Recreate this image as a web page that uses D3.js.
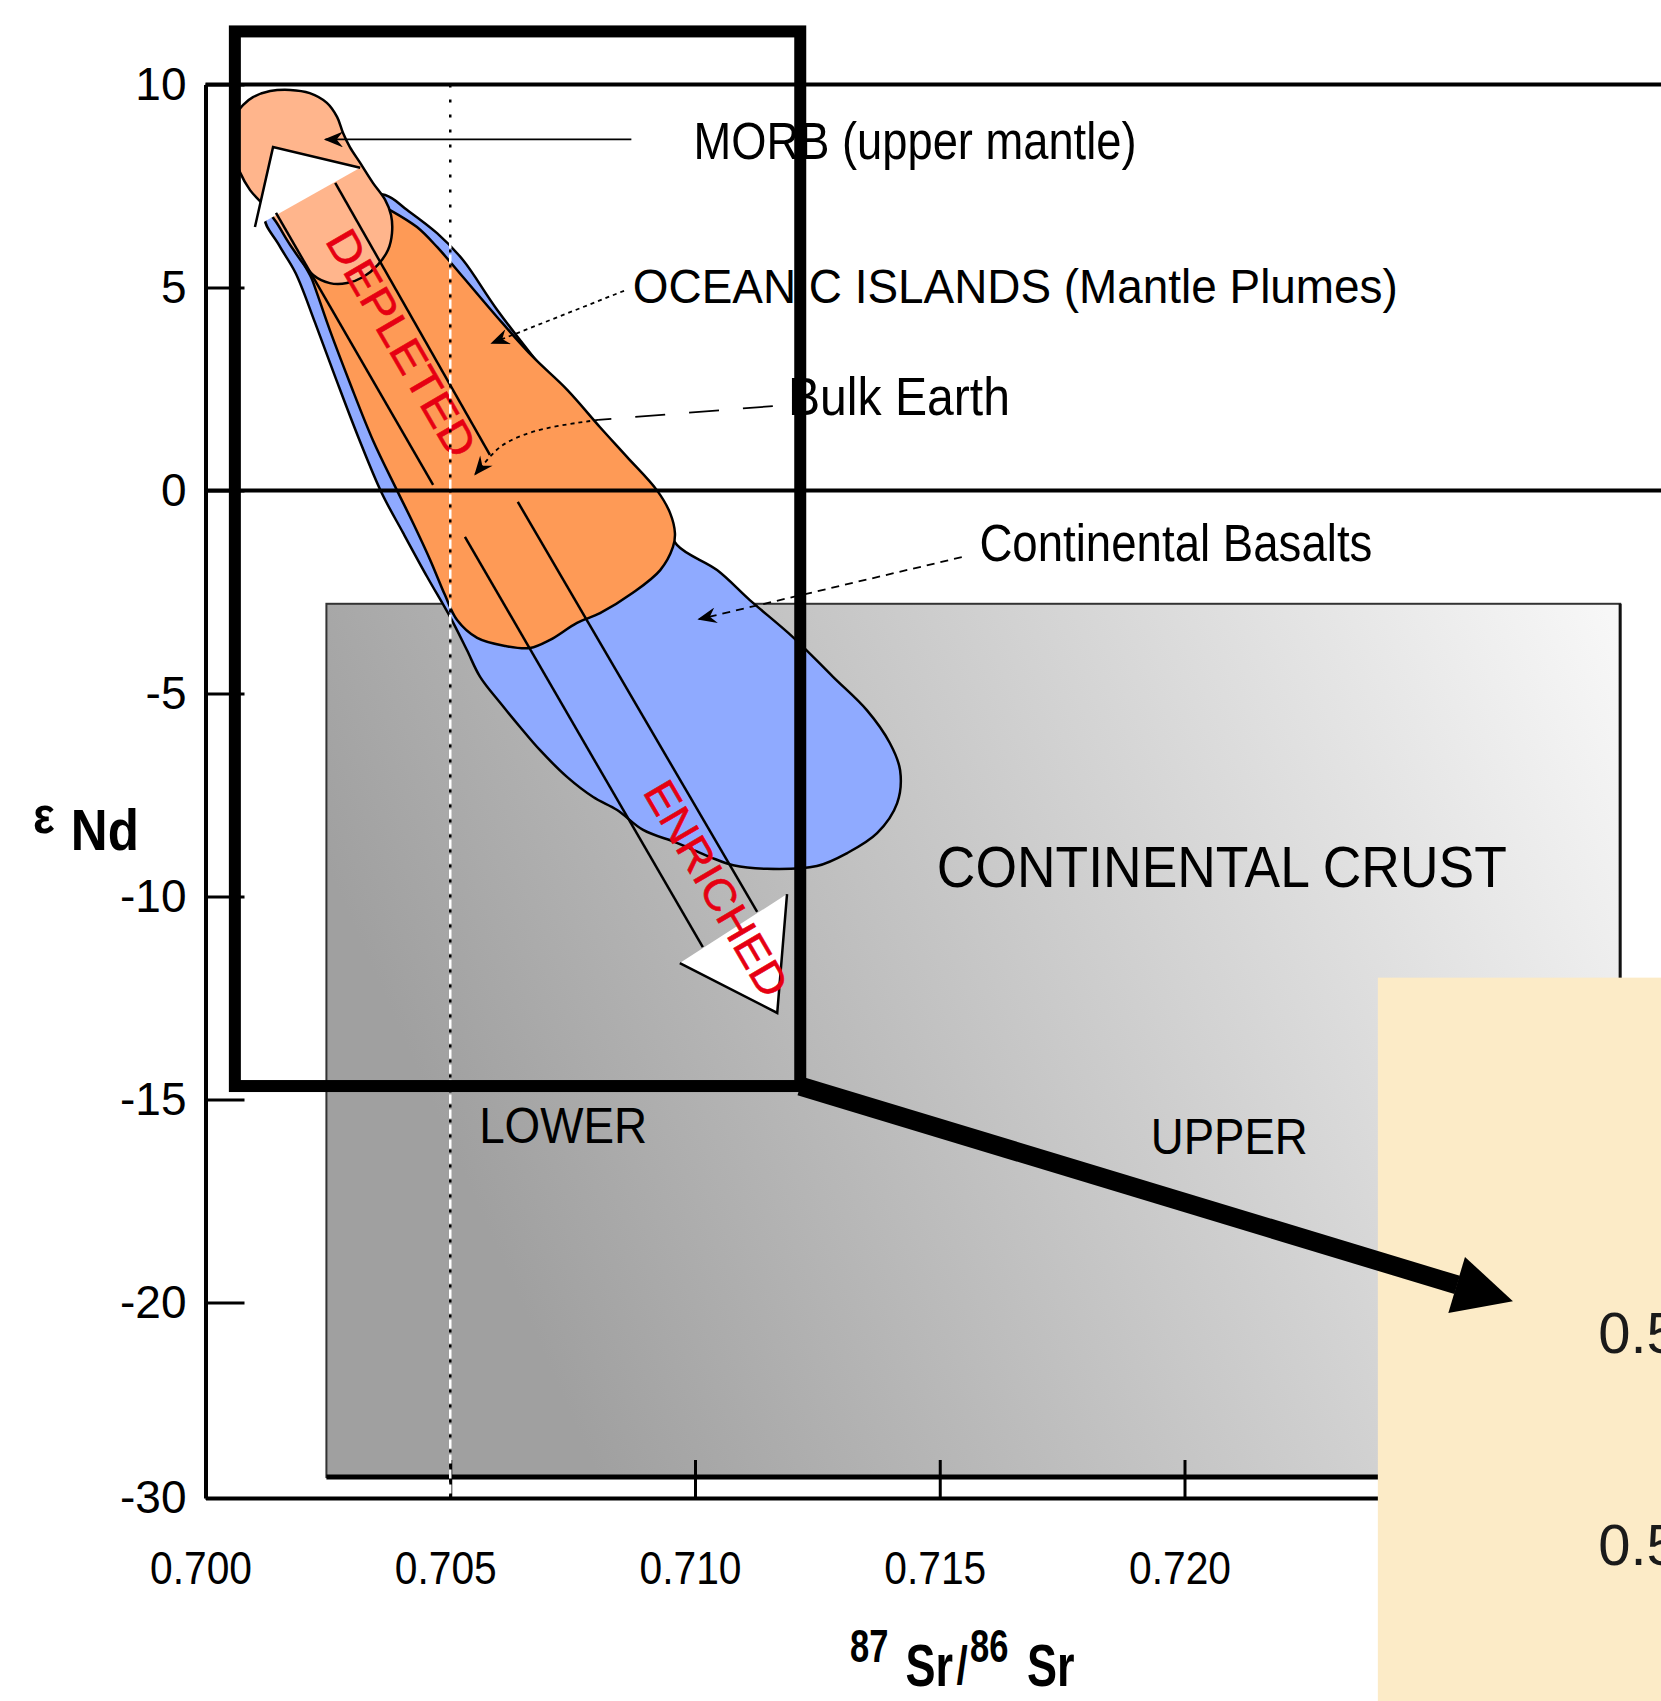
<!DOCTYPE html>
<html><head><meta charset="utf-8">
<script src="https://cdn.jsdelivr.net/npm/d3@7"></script>
<style>
html,body{margin:0;padding:0;background:#fff;}
svg{display:block;}
text{font-family:"Liberation Sans",Arial,Helvetica,sans-serif;}
</style>
</head><body><div id="chart"></div>
<script>
// ---------- DATA (87Sr/86Sr , epsilon Nd) ----------
const srTicks = [0.700, 0.705, 0.710, 0.715, 0.720];
const srTickLabels = ["0.700", "0.705", "0.710", "0.715", "0.720"];
const endTicks = [10, 5, 0, -5, -10, -15, -20, -30];
const endTickLabels = ["10", "5", "0", "-5", "-10", "-15", "-20", "-30"];
const bulkEarthSr = 0.705;
const bulkEarthNd = 0;

const morbField = [[0.70054,8.76],[0.70062,9.25],[0.70077,9.50],[0.70097,9.69],[0.70132,9.84],[0.70173,9.87],[0.70213,9.79],[0.70248,9.55],[0.70269,9.20],[0.70281,8.81],[0.70295,8.46],[0.70316,8.07],[0.70342,7.58],[0.70367,7.16],[0.70379,6.79],[0.70381,6.34],[0.70373,5.93],[0.70352,5.56],[0.70322,5.26],[0.70289,5.11],[0.70254,5.11],[0.70220,5.31],[0.70173,6.05],[0.70144,6.62],[0.70115,7.08],[0.70091,7.40],[0.70070,7.85],[0.70058,8.27]];

const oceanicIslandsField = [[0.70193,5.93],[0.70254,6.79],[0.70336,7.16],[0.70377,6.91],[0.70432,6.49],[0.70473,6.00],[0.70526,5.26],[0.70596,4.27],[0.70669,3.29],[0.70739,2.48],[0.70806,1.56],[0.70861,0.83],[0.70922,0.01],[0.70949,-0.55],[0.70959,-1.05],[0.70955,-1.39],[0.70929,-1.96],[0.70873,-2.52],[0.70806,-3.02],[0.70759,-3.26],[0.70704,-3.68],[0.70663,-3.88],[0.70612,-3.83],[0.70555,-3.63],[0.70514,-3.19],[0.70489,-2.57],[0.70459,-1.71],[0.70424,-0.80],[0.70391,0.01],[0.70342,1.24],[0.70295,2.65],[0.70254,3.95],[0.70218,5.19]];

const continentalBasaltsField = [[0.70122,6.71],[0.70173,7.03],[0.70275,7.28],[0.70367,7.28],[0.70412,6.91],[0.70473,6.34],[0.70526,5.68],[0.70596,4.45],[0.70724,2.48],[0.70847,0.75],[0.70929,-0.48],[0.70963,-1.34],[0.71045,-1.96],[0.71112,-2.70],[0.71200,-3.61],[0.71282,-4.59],[0.71351,-5.41],[0.71398,-6.22],[0.71419,-6.89],[0.71413,-7.70],[0.71372,-8.44],[0.71311,-8.93],[0.71249,-9.25],[0.71147,-9.32],[0.71078,-9.23],[0.71031,-9.03],[0.70963,-8.68],[0.70894,-8.36],[0.70841,-7.87],[0.70792,-7.55],[0.70739,-7.06],[0.70683,-6.39],[0.70643,-5.83],[0.70602,-5.23],[0.70561,-4.59],[0.70534,-3.93],[0.70500,-3.12],[0.70453,-2.13],[0.70404,-1.05],[0.70360,-0.06],[0.70312,1.32],[0.70265,2.80],[0.70224,4.13],[0.70184,5.36],[0.70150,6.05]];

const continentalCrustExtent = [[0.70247,-2.79],[0.72890,-28.93]];

const depletedArrowhead = [[0.70101,6.49],[0.70138,8.46],[0.70316,7.95]];
const depletedShaft = [[[0.70144,6.84],[0.70465,0.14]], [[0.70265,7.58],[0.70581,0.88]]];
const depletedLabelAt = [0.70401,3.63];

const enrichedArrowhead = [[0.70969,-11.64],[0.71168,-12.87],[0.71188,-9.94]];
const enrichedShaft = [[[0.70530,-1.14],[0.71016,-11.25]], [[0.70638,-0.28],[0.71127,-10.38]]];
const enrichedLabelAt = [0.71044,-9.80];

const morbLeader = [[0.70870,8.65],[0.70245,8.65]];
const oceanicLeader = [[0.70855,4.92],[0.70585,3.63]];
const bulkEarthLeaderDashed = [[0.71159,2.08],[0.70802,1.74]];
const bulkEarthLeaderDotted = [[0.70802,1.74],[0.70683,1.54],[0.70612,1.20],[0.70585,0.90],[0.70551,0.40]];
const basaltLeader = [[0.71545,-1.64],[0.71008,-3.17]];

const labelTexts = ["MORB (upper mantle)","OCEANIC ISLANDS (Mantle Plumes)","Bulk Earth","Continental Basalts","CONTINENTAL CRUST","LOWER","UPPER"];
const labelAnchors = [[0.70997,8.17],[0.70873,4.63],[0.71190,1.86],[0.71581,-1.73],[0.71494,-9.77],[0.70559,-16.08],[0.71931,-16.34]];

const highlightFrame = [[0.70060,11.31],[0.71215,-14.67]];
const connectorLine = [[0.71215,-14.67],[0.72557,-19.57]];
const connectorHead = [[0.72573,-18.88],[0.72671,-19.97],[0.72539,-20.54]];
const insetPanel = [[0.72395,-12.00],[0.73100,-42.0]];
const insetTexts = ["0.5","0.5"];
const insetAnchors = [[0.72845,-22.59],[0.72845,-33.43]];

// ---------- STYLE ----------
const W = 1661, H = 1701;
const labelWidths = [443,765,222,393,570,168,157];
const labelSizes = [51,49,53,51,58,50,50];

const svg = d3.select("#chart").append("svg")
  .attr("width", W).attr("height", H).attr("viewBox", `0 0 ${W} ${H}`);

const x = d3.scaleLinear().domain([0.700, 0.730]).range([205.5, 1674]);
const y = d3.scaleLinear().domain([10, -20, -30]).range([84.6, 1302.4, 1498]);
const P = d => [x(d[0]), y(d[1])];

const defs = svg.append("defs");
const grad = defs.append("linearGradient").attr("id","crustGrad")
  .attr("x1","0").attr("y1","0.3").attr("x2","1").attr("y2","0");
grad.append("stop").attr("offset","0").attr("stop-color","#a0a0a0");
grad.append("stop").attr("offset","0.45").attr("stop-color","#c8c8c8");
grad.append("stop").attr("offset","1").attr("stop-color","#f8f8f8");

defs.append("marker").attr("id","arr")
  .attr("viewBox","0 0 12 10").attr("refX",11).attr("refY",5)
  .attr("markerUnits","userSpaceOnUse").attr("markerWidth",22).attr("markerHeight",16)
  .attr("orient","auto")
  .append("path").attr("d","M0,0 L12,5 L0,10 L4,5 Z").attr("fill","#000");

svg.append("rect").attr("width",W).attr("height",H).attr("fill","#fff");

// continental crust box
const c0 = P(continentalCrustExtent[0]), c1 = P(continentalCrustExtent[1]);
svg.append("rect").attr("x",c0[0]).attr("y",c0[1]).attr("width",c1[0]-c0[0]).attr("height",c1[1]-c0[1])
  .attr("fill","url(#crustGrad)").attr("stroke","#333").attr("stroke-width",2);
svg.append("line").attr("x1",c0[0]).attr("x2",c1[0]).attr("y1",c1[1]).attr("y2",c1[1])
  .attr("stroke","#000").attr("stroke-width",5);
svg.append("line").attr("x1",c1[0]).attr("x2",c1[0]).attr("y1",c0[1]).attr("y2",c1[1])
  .attr("stroke","#111").attr("stroke-width",3);

// fields
const area = d3.line().x(d=>x(d[0])).y(d=>y(d[1])).curve(d3.curveCatmullRomClosed.alpha(0.5));
svg.append("path").datum(continentalBasaltsField).attr("d",area)
  .attr("fill","#8faaff").attr("stroke","#000").attr("stroke-width",2.5);
svg.append("path").datum(oceanicIslandsField).attr("d",area)
  .attr("fill","#fe9a56").attr("stroke","#000").attr("stroke-width",2.5);
svg.append("path").datum(morbField).attr("d",area)
  .attr("fill","#ffb58c").attr("stroke","#000").attr("stroke-width",2.5);

const seg = d3.line().x(d=>x(d[0])).y(d=>y(d[1]));

// depleted arrow
svg.append("path").datum(depletedArrowhead).attr("d", d=>seg(d)+"Z").attr("fill","#fff").attr("stroke","none");
svg.append("path").datum(depletedArrowhead).attr("d", seg).attr("fill","none").attr("stroke","#000").attr("stroke-width",2.5);
depletedShaft.forEach(s => svg.append("path").datum(s).attr("d",seg).attr("stroke","#000").attr("stroke-width",2.5).attr("fill","none"));

// enriched arrow
svg.append("path").datum(enrichedArrowhead).attr("d", d=>seg(d)+"Z").attr("fill","#fff").attr("stroke","none");
svg.append("path").datum(enrichedArrowhead).attr("d", seg).attr("fill","none").attr("stroke","#000").attr("stroke-width",2.5);
enrichedShaft.forEach(s => svg.append("path").datum(s).attr("d",seg).attr("stroke","#000").attr("stroke-width",2.5).attr("fill","none"));

function angleOf(s){ const a=P(s[0]), b=P(s[1]); return Math.atan2(b[1]-a[1], b[0]-a[0])*180/Math.PI; }
function arrowText(t, at, ang, len){
  const p = P(at);
  svg.append("text").attr("x",p[0]).attr("y",p[1])
    .attr("text-anchor","middle").attr("dominant-baseline","central")
    .attr("transform",`rotate(${ang},${p[0]},${p[1]})`)
    .attr("font-size",44).attr("fill","#e60012")
    .attr("stroke","#e60012").attr("stroke-width",0.6)
    .attr("textLength",len).attr("lengthAdjust","spacingAndGlyphs").text(t);
}
arrowText("DEPLETED", depletedLabelAt, angleOf(depletedShaft[0]), 255);
arrowText("ENRICHED", enrichedLabelAt, angleOf(enrichedShaft[1]), 242);

// reference lines at epsilon 10 and 0
[10, bulkEarthNd].forEach(v => svg.append("line")
  .attr("x1",x(0.700)).attr("x2",x(0.730)).attr("y1",y(v)).attr("y2",y(v))
  .attr("stroke","#000").attr("stroke-width",4));

// axes
const yAxis = d3.axisLeft(y).tickValues(endTicks).tickSize(-39).tickSizeOuter(0).tickPadding(19)
  .tickFormat((d,i)=>endTickLabels[i]);
const gy = svg.append("g").attr("transform",`translate(${x(0.700)},0)`).call(yAxis);
gy.select(".domain").attr("stroke","#000").attr("stroke-width",4);
gy.selectAll(".tick line").attr("stroke","#000").attr("stroke-width",3);
gy.selectAll(".tick text").attr("font-size",46).attr("fill","#000")
  .attr("font-family","Liberation Sans, Arial, sans-serif");

const xAxis = d3.axisBottom(x).tickValues(srTicks).tickSize(-38).tickSizeOuter(0).tickPadding(53)
  .tickFormat((d,i)=>srTickLabels[i]);
const gx = svg.append("g").attr("transform",`translate(0,${y(-30)})`).call(xAxis);
gx.select(".domain").attr("stroke","#000").attr("stroke-width",4);
gx.selectAll(".tick line").attr("stroke","#000").attr("stroke-width",3);
gx.selectAll(".tick text").attr("font-size",46).attr("fill","#000")
  .attr("font-family","Liberation Sans, Arial, sans-serif")
  .attr("dx",-5).attr("textLength",102).attr("lengthAdjust","spacingAndGlyphs");

// bulk earth Sr line (dotted)
svg.append("line").attr("x1",x(bulkEarthSr)).attr("x2",x(bulkEarthSr)).attr("y1",y(10)).attr("y2",y(-30))
  .attr("stroke","#fff").attr("stroke-width",2.5).attr("stroke-dasharray","9 6").attr("stroke-dashoffset",10);
svg.append("line").attr("x1",x(bulkEarthSr)).attr("x2",x(bulkEarthSr)).attr("y1",y(10)).attr("y2",y(-30))
  .attr("stroke","#000").attr("stroke-width",2.5).attr("stroke-dasharray","3 12");

// leaders
svg.append("path").datum(morbLeader).attr("d",seg).attr("stroke","#000").attr("stroke-width",1.8).attr("fill","none").attr("marker-end","url(#arr)");
svg.append("path").datum(oceanicLeader).attr("d",seg).attr("stroke","#000").attr("stroke-width",1.8).attr("fill","none").attr("stroke-dasharray","4 4").attr("marker-end","url(#arr)");
svg.append("path").datum(bulkEarthLeaderDashed).attr("d",seg).attr("stroke","#000").attr("stroke-width",1.8).attr("fill","none").attr("stroke-dasharray","30 24");
svg.append("path").datum(bulkEarthLeaderDotted).attr("d",d3.line().x(d=>x(d[0])).y(d=>y(d[1])).curve(d3.curveBasis))
  .attr("stroke","#000").attr("stroke-width",1.8).attr("fill","none").attr("stroke-dasharray","4 4").attr("marker-end","url(#arr)");
svg.append("path").datum(basaltLeader).attr("d",seg).attr("stroke","#000").attr("stroke-width",1.8).attr("fill","none").attr("stroke-dasharray","8 6").attr("marker-end","url(#arr)");

// labels
labelTexts.forEach((t,i) => {
  const p = P(labelAnchors[i]);
  svg.append("text").attr("x",p[0]).attr("y",p[1]).attr("font-size",labelSizes[i]).attr("fill","#000")
    .attr("textLength",labelWidths[i]).attr("lengthAdjust","spacingAndGlyphs").text(t);
});

// axis titles
const yt = svg.append("text").attr("transform","translate(33,0) scale(0.88,1)").attr("font-weight","bold").attr("fill","#000");
yt.append("tspan").attr("x",0).attr("y",833).attr("font-size",52).text("ε");
yt.append("tspan").attr("x",43).attr("y",850).attr("font-size",58).text("Nd");

const xt = svg.append("text").attr("transform","translate(850,0) scale(0.75,1)").attr("font-weight","bold").attr("fill","#000");
xt.append("tspan").attr("x",0).attr("y",1662).attr("font-size",46).text("87");
xt.append("tspan").attr("x",74).attr("y",1686).attr("font-size",60).text("Sr");
xt.append("tspan").attr("x",142).attr("y",1684).attr("font-size",54).text("/");
xt.append("tspan").attr("x",160).attr("y",1662).attr("font-size",46).text("86");
xt.append("tspan").attr("x",236).attr("y",1686).attr("font-size",60).text("Sr");

// highlight frame
const f0 = P(highlightFrame[0]), f1 = P(highlightFrame[1]);
svg.append("rect").attr("x",f0[0]).attr("y",f0[1]).attr("width",f1[0]-f0[0]).attr("height",f1[1]-f0[1])
  .attr("fill","none").attr("stroke","#000").attr("stroke-width",12).attr("stroke-linejoin","miter");

// inset panel
const i0 = P(insetPanel[0]), i1 = P(insetPanel[1]);
svg.append("rect").attr("x",i0[0]).attr("y",i0[1]).attr("width",i1[0]-i0[0]).attr("height",i1[1]-i0[1]).attr("fill","#fcebc7");
insetTexts.forEach((t,i) => {
  const p = P(insetAnchors[i]);
  svg.append("text").attr("x",p[0]).attr("y",p[1]).attr("font-size",58).attr("fill","#1a1a1a")
    .attr("font-family","Liberation Sans, Arial, sans-serif").text(t);
});

// connector arrow
svg.append("path").datum(connectorLine).attr("d",seg).attr("stroke","#000").attr("stroke-width",19).attr("fill","none");
svg.append("path").datum(connectorHead).attr("d",d=>seg(d)+"Z").attr("fill","#000");
</script>
</body></html>
